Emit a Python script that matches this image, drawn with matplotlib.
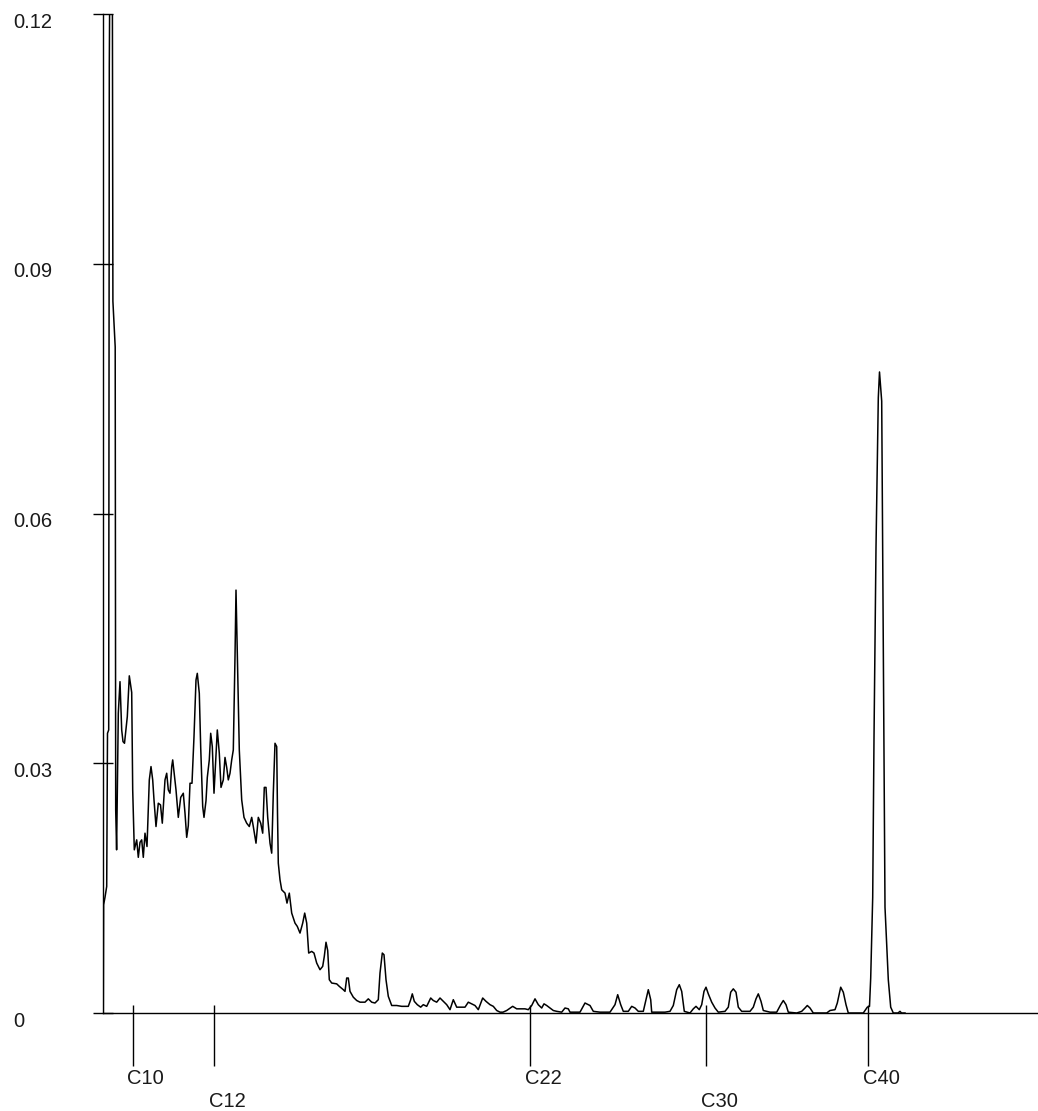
import matplotlib
matplotlib.use("Agg")
import matplotlib.pyplot as plt

# scan position along the run, and detector signal
scan = [0.3, 0.6, 2.0, 3.7, 4.5, 5.7, 6.3, 7.3, 9.2, 9.9, 12.2, 12.7, 13.6,
        15.3, 17.0, 18.7, 20.0, 21.5, 24.3, 26.3, 28.7, 29.7, 31.3, 33.7,
        35.3, 37.0, 38.7, 40.3, 42.0, 44.0, 46.3, 48.0, 49.7, 51.0, 53.0,
        55.3, 57.5, 59.3, 62.0, 63.7, 65.3, 67.0, 68.7, 69.7, 71.0, 73.0,
        75.3, 77.7, 80.3, 82.0, 83.7, 85.3, 87.0, 89.0, 91.0, 93.0, 94.3,
        96.3, 97.7, 99.7, 101.0, 103.0, 104.3, 106.3, 107.7, 109.3, 111.0,
        112.7, 114.3, 116.3, 118.0, 120.3, 122.0, 123.7, 125.3, 127.0, 128.7,
        130.3, 132.0, 133.0, 134.7, 136.3, 138.7, 141.0, 143.7, 146.3, 148.7,
        150.3, 153.0, 155.3, 157.7, 159.7, 161.3, 163.0, 164.7, 167.0, 168.7,
        170.3, 172.0, 173.7, 174.5, 175.3, 177.0, 178.7, 182.0, 184.0, 186.3,
        188.7, 192.0, 194.3, 197.0, 199.7, 201.7, 203.7, 205.7, 208.7, 211.0,
        213.7, 217.0, 219.7, 221.3, 223.0, 224.7, 226.3, 228.7, 233.7, 236.3,
        240.3, 242.0, 243.7, 245.3, 247.0, 250.3, 253.7, 257.0, 262.0, 265.3,
        268.7, 272.0, 275.3, 277.0, 279.3, 281.0, 283.0, 285.3, 288.7, 293.7,
        298.7, 305.3, 307.7, 309.3, 311.3, 314.3, 317.7, 320.3, 323.7, 327.7,
        330.3, 333.7, 337.0, 340.3, 343.7, 347.0, 350.3, 353.7, 357.0, 362.0,
        365.3, 368.7, 372.0, 375.3, 379.7, 383.0, 387.0, 390.3, 393.7, 397.0,
        400.0, 403.7, 409.7, 413.7, 418.7, 422.0, 425.3, 428.7, 432.0, 435.3,
        438.7, 441.0, 443.7, 447.0, 450.3, 453.7, 458.7, 462.0, 465.3, 467.0,
        477.0, 482.0, 487.0, 490.3, 497.0, 507.0, 512.0, 514.7, 517.7, 520.3,
        525.3, 528.7, 532.0, 535.3, 540.3, 543.0, 545.3, 547.7, 548.7, 557.0,
        562.0, 567.0, 570.3, 573.7, 576.3, 578.7, 581.3, 587.0, 590.3, 593.0,
        596.3, 598.7, 601.0, 603.0, 605.3, 608.7, 612.0, 615.3, 622.0, 625.3,
        627.7, 630.3, 633.0, 635.3, 638.7, 647.0, 650.3, 653.0, 655.3, 658.0,
        660.3, 667.0, 673.7, 677.7, 680.3, 683.0, 685.3, 693.7, 698.7, 702.0,
        704.3, 707.0, 710.3, 723.7, 727.0, 732.0, 734.3, 737.7, 740.3, 743.0,
        745.3, 760.3, 764.3, 766.5, 767.7, 769.7, 771.0, 773.0, 775.3, 776.5,
        778.7, 779.7, 781.0, 782.0, 785.3, 787.7, 790.3, 795.0, 797.0, 798.5,
        802.0]
signal = [0.0, 0.0130, 0.0139, 0.0152, 0.0336, 0.0340, 0.1137, 0.135, 0.135,
          0.0855, 0.0800, 0.0244, 0.0196, 0.0360, 0.0398, 0.0340, 0.0326,
          0.0324, 0.0356, 0.0405, 0.0385, 0.0268, 0.0196, 0.0208, 0.0187,
          0.0205, 0.0208, 0.0187, 0.0216, 0.0200, 0.0280, 0.0296, 0.0280,
          0.0256, 0.0224, 0.0252, 0.0250, 0.0228, 0.0280, 0.0288, 0.0268,
          0.0264, 0.0296, 0.0304, 0.0290, 0.0268, 0.0235, 0.0259, 0.0264,
          0.0240, 0.0211, 0.0225, 0.0276, 0.0276, 0.0332, 0.0400, 0.0408,
          0.0384, 0.0319, 0.0248, 0.0235, 0.0255, 0.0283, 0.0304, 0.0336,
          0.0320, 0.0264, 0.0304, 0.0340, 0.0312, 0.0271, 0.0280, 0.0307,
          0.0295, 0.0280, 0.0288, 0.0304, 0.0316, 0.0428, 0.0508, 0.0412,
          0.0316, 0.0256, 0.0235, 0.0228, 0.0224, 0.0235, 0.0224, 0.0204,
          0.0235, 0.0228, 0.0216, 0.0271, 0.0271, 0.0235, 0.0204, 0.0192,
          0.0264, 0.0324, 0.0320, 0.0240, 0.0180, 0.0160, 0.0148, 0.0144,
          0.0132, 0.0144, 0.0120, 0.0108, 0.0104, 0.0096, 0.0108, 0.0120,
          0.0108, 0.0072, 0.0074, 0.0072, 0.0060, 0.0052, 0.0056, 0.0068,
          0.0085, 0.0075, 0.0040, 0.0036, 0.0035, 0.0032, 0.0028, 0.0026,
          0.0042, 0.0042, 0.0026, 0.0019, 0.0015, 0.0013, 0.0013, 0.0017,
          0.0013, 0.0012, 0.0016, 0.0048, 0.0072, 0.0070, 0.0040, 0.0020,
          0.0009, 0.0009, 0.0008, 0.0008, 0.0016, 0.0023, 0.0014, 0.0010,
          0.0007, 0.0010, 0.0008, 0.0018, 0.0015, 0.0013, 0.0018, 0.0014,
          0.0010, 0.0004, 0.0016, 0.0007, 0.0007, 0.0007, 0.0013, 0.0011,
          0.0009, 0.0004, 0.0018, 0.0014, 0.0010, 0.0008, 0.0003, 0.0001,
          0.0001, 0.0003, 0.0008, 0.0005, 0.0005, 0.0005, 0.0004, 0.0009,
          0.0017, 0.0010, 0.0006, 0.0011, 0.0009, 0.0006, 0.0003, 0.0002,
          0.0001, 0.0006, 0.0005, 0.0001, 0.0001, 0.0012, 0.0009, 0.0002,
          0.0001, 0.0001, 0.0010, 0.0022, 0.0010, 0.0002, 0.0002, 0.0008,
          0.0006, 0.0002, 0.0002, 0.0016, 0.0028, 0.0016, 0.0001, 0.0001,
          0.0001, 0.0002, 0.0009, 0.0028, 0.0034, 0.0026, 0.0002, 0.0000,
          0.0005, 0.0008, 0.0004, 0.0010, 0.0026, 0.0031, 0.0023, 0.0013,
          0.0006, 0.0001, 0.0002, 0.0007, 0.0025, 0.0029, 0.0025, 0.0007,
          0.0002, 0.0002, 0.0007, 0.0017, 0.0023, 0.0014, 0.0003, 0.0001,
          0.0001, 0.0010, 0.0015, 0.0010, 0.0001, 0.0000, 0.0002, 0.0006,
          0.0009, 0.0006, 0.0000, 0.0000, 0.0003, 0.0004, 0.0012, 0.0031,
          0.0025, 0.0010, 0.0000, 0.0000, 0.0007, 0.0008, 0.0042, 0.0139,
          0.0330, 0.0559, 0.0739, 0.0770, 0.0735, 0.0548, 0.0307, 0.0127,
          0.0040, 0.0007, 0.0000, 0.0000, 0.0002, 0.0000, 0.0000]

# alkane markers
marker_names = ["C10", "C12", "C22", "C30", "C40"]
marker_pos = [29.5, 111, 427, 603, 765]

y_ticks = [0, 0.03, 0.06, 0.09, 0.12]
y_labels = ["0", "0.03", "0.06", "0.09", "0.12"]

fig = plt.figure(figsize=(10.38, 11.11), dpi=100)
ax = fig.add_axes([103 / 1038, 98 / 1111, 935 / 1038, 999 / 1111])

ax.plot(scan, signal, color="black", lw=1.1)
ax.set_xlim(0, 935)
ax.set_ylim(0, 0.12)

for s in ["top", "right"]:
    ax.spines[s].set_visible(False)
for s in ["left", "bottom"]:
    ax.spines[s].set_linewidth(1.0)

ax.set_xticks([])
ax.set_yticks(y_ticks)
ax.set_yticklabels([])
ax.tick_params(axis="y", direction="inout", length=14.4, width=1.0)

# y labels sit left of the axis, a little below each tick
for v, lab in zip(y_ticks, y_labels):
    ax.annotate(lab, xy=(0, v), xycoords=("axes fraction", "data"),
                xytext=(-64.8, -5.8), textcoords="offset points",
                ha="left", va="center", fontsize=14.5,
                family="Liberation Sans", color="#1a1a1a")

# marker ticks cross the baseline, names below in two rows
ax.vlines(marker_pos, 8 / 999, -53 / 999, transform=ax.get_xaxis_transform(),
          color="black", lw=1.0, clip_on=False)
for i, (p, name) in enumerate(zip(marker_pos, marker_names)):
    dy = -46.8 if i % 2 == 0 else -64.0
    ax.annotate(name, xy=(p, 0), xycoords=("data", "axes fraction"),
                xytext=(-3.6, dy), textcoords="offset points",
                ha="left", va="center", fontsize=14.5,
                family="Liberation Sans", color="#1a1a1a")

fig.savefig("out.png", dpi=100)
